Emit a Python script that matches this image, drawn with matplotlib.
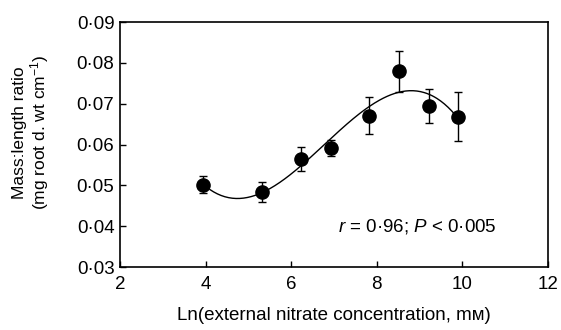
import numpy as np
import matplotlib
matplotlib.use("Agg")
import matplotlib.pyplot as plt
from matplotlib.ticker import FuncFormatter

plt.rcParams['font.family'] = ['Liberation Sans', 'DejaVu Sans']
plt.rcParams['mathtext.fontset'] = 'custom'
plt.rcParams['mathtext.rm'] = 'Liberation Sans'
plt.rcParams['mathtext.it'] = 'Liberation Sans:italic'

# Ln(nitrate) vs mass:length ratio
ln_nitrate = [3.93, 5.32, 6.22, 6.92, 7.82, 8.53, 9.22, 9.90]
ratio = [0.0502, 0.0484, 0.0565, 0.0591, 0.0671, 0.0779, 0.0695, 0.0668]
ratio_err = [0.0020, 0.0025, 0.0030, 0.0020, 0.0045, 0.0050, 0.0042, 0.0060]

# polynomial fit (cubic)
coef = np.polyfit(ln_nitrate, ratio, 3)
xfit = np.linspace(4.1, 9.9, 200)
yfit = np.polyval(coef, xfit)

fig = plt.figure(figsize=(5.61, 3.30), dpi=100)
ax = fig.add_axes([0.2139, 0.1909, 0.7629, 0.7424])

ax.plot(xfit, yfit, color='black', lw=1.0)
ax.errorbar(ln_nitrate, ratio, yerr=ratio_err, fmt='o', color='black',
            ms=9.5, capsize=3, elinewidth=1.0, capthick=1.0)

ax.set_xlim(2, 12)
ax.set_ylim(0.03, 0.09)
ax.set_xticks([2, 4, 6, 8, 10, 12])
ax.set_yticks([0.03, 0.04, 0.05, 0.06, 0.07, 0.08, 0.09])
ax.yaxis.set_major_formatter(FuncFormatter(lambda v, p: f'{v:.2f}'.replace('.', '·')))
ax.tick_params(direction='in', length=4, width=1, labelsize=13.5, colors='black')
ax.tick_params(axis='x', pad=6.5)
ax.tick_params(axis='y', pad=4)
for s in ax.spines.values():
    s.set_linewidth(1.2)

ax.set_xlabel('Ln(external nitrate concentration, mᴍ)', fontsize=13.5, labelpad=10)
ax.set_ylabel('Mass:length ratio\n(mg root d. wt cm$^{-1}$)', fontsize=12.5,
              linespacing=1.05)
ax.yaxis.set_label_coords(-0.162, 0.55)

ax.text(8.95, 0.04, r'$r$ = 0·96; $P$ < 0·005', fontsize=13.5,
        ha='center', va='center')

fig.savefig('out.png', dpi=100)
